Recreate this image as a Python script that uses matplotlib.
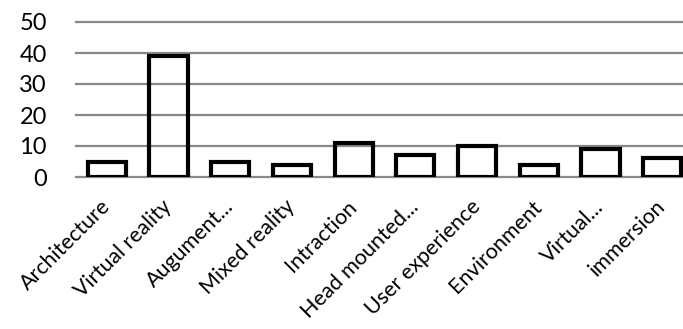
import matplotlib.pyplot as plt
import matplotlib.transforms as mtransforms
import numpy as np

plt.rcParams['font.family'] = ['Lato', 'DejaVu Sans']

categories = ['Architecture', 'Virtual reality', 'Augument...', 'Mixed reality',
              'Intraction', 'Head mounted...', 'User experience', 'Environment',
              'Virtual...', 'immersion']
counts = [5, 39, 5, 4, 11, 7, 10, 4, 9, 6]
yticks = [0, 10, 20, 30, 40, 50]

fig = plt.figure(figsize=(6.83, 3.29), dpi=100)
# axes run a little past the right edge of the figure
ax = fig.add_axes([76/683, 152/329, 617/683, 155/329])

x = np.arange(len(categories))
for t in yticks:
    ax.axhline(t, color='#888888', lw=1.6, clip_on=False, zorder=1)
ax.bar(x, counts, width=0.62, facecolor='none', edgecolor='black',
       linewidth=3.0, zorder=2)

ax.set_xlim(-0.5, len(categories) - 0.5)
ax.set_ylim(0, 50)
ax.set_yticks(yticks)
ax.set_yticklabels([str(t) for t in yticks], fontsize=17)
ax.set_xticks(x)
ax.set_xticklabels(categories, rotation=45, ha='right', rotation_mode='anchor',
                   fontsize=15.5)
ax.tick_params(axis='y', length=0, pad=21)
ax.tick_params(axis='x', length=0, pad=14)

# nudge the slanted labels a little to the left
shift = mtransforms.ScaledTranslation(-5/72, 0, fig.dpi_scale_trans)
for lbl in ax.get_xticklabels():
    lbl.set_transform(lbl.get_transform() + shift)

for s in ax.spines.values():
    s.set_visible(False)

fig.savefig('out.png', dpi=100)
